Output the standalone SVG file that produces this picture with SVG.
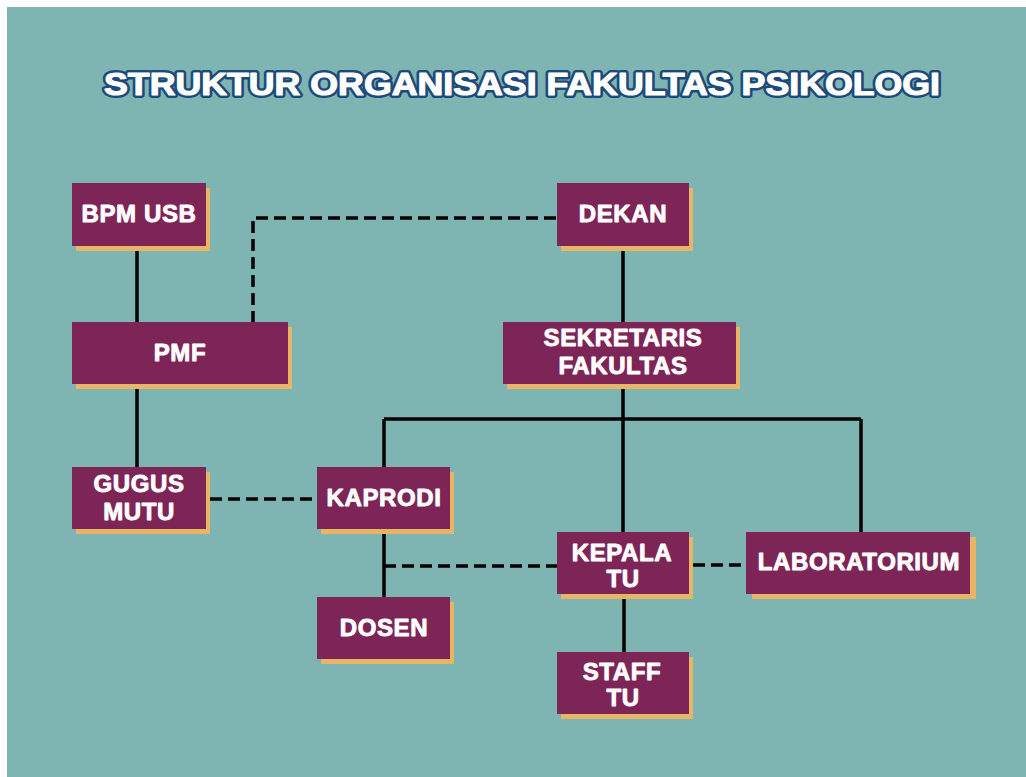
<svg xmlns="http://www.w3.org/2000/svg" width="1026" height="777" viewBox="0 0 1026 777">
<style>
.sh{fill:#e8b466}
.bx{fill:#7e2557}
.t{font-family:"Liberation Sans",Arial,sans-serif;font-weight:bold;font-size:24px;letter-spacing:0.6px;fill:#ffffff;stroke:#ffffff;stroke-width:0.9;stroke-linejoin:round;text-anchor:middle}
.ttl{font-family:"Liberation Sans",Arial,sans-serif;font-weight:bold;font-size:32px;text-anchor:middle;stroke-linejoin:round}
.s{stroke:#000;stroke-width:3.5;fill:none}
.d{stroke:#000;stroke-width:3.5;fill:none;stroke-dasharray:12 6}
</style>
<rect x="0" y="0" width="1026" height="777" fill="#ffffff"/>
<rect x="7" y="7" width="1019" height="770" fill="#7eb4b1"/>
<g id="title">
<text class="ttl" x="522" y="95" textLength="836" lengthAdjust="spacingAndGlyphs" fill="#1e4a7a" stroke="#1e4a7a" stroke-width="6">STRUKTUR ORGANISASI FAKULTAS PSIKOLOGI</text>
<text class="ttl" x="522" y="95" textLength="836" lengthAdjust="spacingAndGlyphs" fill="#ffffff" stroke="#ffffff" stroke-width="1.2">STRUKTUR ORGANISASI FAKULTAS PSIKOLOGI</text>
</g>
<g id="connectors">
<path class="s" d="M137 246V322"/>
<path class="s" d="M137 384V467"/>
<path class="d" d="M556 218H253V322"/>
<path class="s" d="M623 246V322"/>
<path class="s" d="M623 384V532"/>
<path class="s" d="M384 419H861"/>
<path class="s" d="M384 419V467"/>
<path class="s" d="M861 419V532"/>
<path class="d" d="M210 499H317"/>
<path class="s" d="M384 529V597"/>
<path class="d" d="M384 566H557"/>
<path class="d" d="M693 565H746"/>
<path class="s" d="M624 594V652"/>
</g>
<g id="bpm"><rect class="sh" x="76" y="188" width="134" height="63"/><rect class="bx" x="72" y="183" width="134" height="63"/><text class="t" x="139" y="222">BPM USB</text></g>
<g id="pmf"><rect class="sh" x="76" y="327" width="216" height="62"/><rect class="bx" x="72" y="322" width="216" height="62"/><text class="t" x="180" y="361">PMF</text></g>
<g id="gugus"><rect class="sh" x="76" y="472" width="134" height="62"/><rect class="bx" x="72" y="467" width="134" height="62"/><text class="t" x="139" y="492">GUGUS</text><text class="t" x="139" y="520">MUTU</text></g>
<g id="dekan"><rect class="sh" x="561" y="188" width="132" height="63"/><rect class="bx" x="557" y="183" width="132" height="63"/><text class="t" x="623" y="222">DEKAN</text></g>
<g id="sekretaris"><rect class="sh" x="507" y="327" width="233" height="62"/><rect class="bx" x="503" y="322" width="233" height="62"/><text class="t" x="623" y="346">SEKRETARIS</text><text class="t" x="623" y="374">FAKULTAS</text></g>
<g id="kaprodi"><rect class="sh" x="321" y="472" width="133" height="62"/><rect class="bx" x="317" y="467" width="133" height="62"/><text class="t" x="384" y="506">KAPRODI</text></g>
<g id="dosen"><rect class="sh" x="321" y="602" width="133" height="62"/><rect class="bx" x="317" y="597" width="133" height="62"/><text class="t" x="384" y="636">DOSEN</text></g>
<g id="kepala"><rect class="sh" x="561" y="537" width="132" height="62"/><rect class="bx" x="557" y="532" width="132" height="62"/><text class="t" x="622" y="561">KEPALA</text><text class="t" x="623" y="587">TU</text></g>
<g id="lab"><rect class="sh" x="752" y="537" width="224" height="62"/><rect class="bx" x="746" y="532" width="224" height="62"/><text class="t" x="859" y="570">LABORATORIUM</text></g>
<g id="staff"><rect class="sh" x="561" y="657" width="132" height="62"/><rect class="bx" x="557" y="652" width="132" height="62"/><text class="t" x="622" y="680">STAFF</text><text class="t" x="623" y="706">TU</text></g>
</svg>
